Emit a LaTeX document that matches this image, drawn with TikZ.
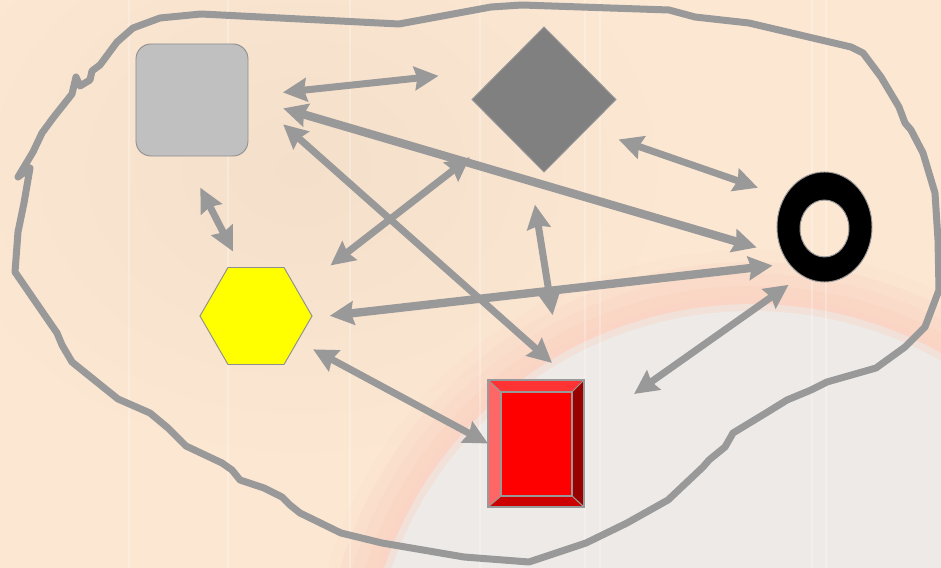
\documentclass[tikz,border=0pt]{standalone}
\usetikzlibrary{arrows.meta,shapes.geometric,calc}
\definecolor{bgpeach}{HTML}{FCE7D3}
\definecolor{bgtan}{HTML}{F4DFCA}
\definecolor{bandpink}{HTML}{FAD4C4}
\definecolor{diskgray}{HTML}{EEEAE7}
\definecolor{linkgray}{HTML}{999999}
\definecolor{edgegray}{HTML}{8F8F8F}
\definecolor{sqgray}{HTML}{C0C0C0}
\definecolor{diagray}{HTML}{808080}
\definecolor{hexyellow}{HTML}{FFFF00}
\definecolor{redface}{HTML}{FF0000}
\definecolor{redtop}{HTML}{FF3333}
\definecolor{redleft}{HTML}{FF6666}
\definecolor{redright}{HTML}{990000}
\definecolor{redbottom}{HTML}{CC0000}
\begin{document}
\begin{tikzpicture}[x=0.03cm,y=-0.03cm,
	>={Stealth[length=0.72cm,width=0.7cm,inset=0.08cm]},
	link/.style={<->,draw=linkgray,line width=0.21cm},
	heavy/.style={link,line width=0.25cm},
	outline/.style={draw=linkgray,line width=0.21cm,line join=round},
	sqbox/.style={rectangle,rounded corners=0.45cm,minimum size=3.36cm,inner sep=0,outer sep=0,fill=sqgray,draw=edgegray,line width=0.8pt},
	diabox/.style={diamond,minimum width=4.32cm,minimum height=4.35cm,inner sep=0,outer sep=0,fill=diagray,draw=linkgray,line width=0.8pt},
	hexbox/.style={regular polygon,regular polygon sides=6,minimum size=3.36cm,inner sep=0,outer sep=0,fill=hexyellow,draw=edgegray,line width=0.8pt},
	ringbox/.style={ellipse,minimum width=2.85cm,minimum height=3.3cm,inner sep=0,outer sep=0},
	redbox/.style={rectangle,minimum width=2.88cm,minimum height=3.81cm,inner sep=0,outer sep=0,fill=redface},
	bevel/.style={draw=linkgray,line width=0.9pt}]
\useasboundingbox (0,0) rectangle (941,568);
\fill[bgpeach] (0,0) rectangle (941,568);
\begin{scope}
	\clip (0,0) rectangle (941,568);
	\shade[inner color=bgtan,outer color=bgpeach] (300,170) ellipse (380 and 300);
	\foreach \r/\o in {442/0.15,430/0.25,418/0.4,406/0.55,395/0.75}
		\fill[bandpink,opacity=\o] (752,692) circle (\r);
	\fill[diskgray,opacity=0.6] (752,692) circle (388);
	\fill[diskgray] (752,692) circle (381);
	\foreach \x in {129,228,350,480,585,600,812,826}
		\draw[white,opacity=0.25,line width=0.06cm] (\x,0) -- (\x,568);
\end{scope}
\draw[outline] (201,14) -- (399,24) -- (491,7) -- (522,5) -- (669,10) -- (695,17) -- (749,23)
	-- (851,47) -- (863,53) -- (881,77) -- (899,107) -- (905,123) -- (911,130) -- (923,153)
	-- (935,193) -- (938,240) -- (939,290) -- (925,327) -- (905,347) -- (876,368) -- (827,382)
	-- (811,390) -- (787,400) -- (766,413) -- (733,433) -- (725,447) -- (709,460) -- (703,467)
	-- (668,500) -- (627,523) -- (586,543) -- (529,562) -- (464,557) -- (382,543) -- (341,533)
	-- (300,513) -- (290,505) -- (282,497) -- (264,488) -- (240,480) -- (232,470) -- (222,463)
	-- (186,446) -- (168,428) -- (150,413) -- (118,399) -- (108,391) -- (72,362) -- (62,345)
	-- (57,333) -- (15,272) -- (18,232) -- (24,203) -- (30,168) -- (18,177) -- (33,152)
	-- (42,133) -- (53,118) -- (72,94) -- (76,77) -- (80,86) -- (90,80) -- (92,71) -- (100,65)
	-- (117,42) -- (133,28) -- (160,18) -- cycle;
\node[sqbox] (sq) at (192,100) {};
\node[diabox] (dia) at (544,99.5) {};
\node[hexbox] (hex) at (256,316) {};
\node[ringbox] (ring) at (824.5,227) {};
\node[redbox] (red) at (536,443.5) {};
\coordinate (loose) at (634,394);
\fill[black,even odd rule,draw=linkgray,line width=0.8pt] (ring.center) ellipse (47.5 and 55)
	(824.5,228.5) ellipse (24.5 and 28.5);
\fill[redtop] (red.north west) -- (red.north east)
	-- ($(red.north east)+(-12,12)$) -- ($(red.north west)+(13,12)$) -- cycle;
\fill[redleft] (red.north west) -- ($(red.north west)+(13,12)$)
	-- ($(red.south west)+(13,-11)$) -- (red.south west) -- cycle;
\fill[redright] (red.north east) -- ($(red.north east)+(-12,12)$)
	-- ($(red.south east)+(-12,-11)$) -- (red.south east) -- cycle;
\fill[redbottom] (red.south west) -- ($(red.south west)+(13,-11)$)
	-- ($(red.south east)+(-12,-11)$) -- (red.south east) -- cycle;
\draw[bevel] (red.north west) rectangle (red.south east);
\draw[bevel] ($(red.north west)+(13,12)$) rectangle ($(red.south east)+(-12,-11)$);
\draw[bevel] (red.north west) -- ++(13,12) (red.north east) -- ++(-12,12)
	(red.south west) -- ++(13,-11) (red.south east) -- ++(-12,-11);
\draw[link,shorten <=1.05cm,shorten >=1.92cm] (sq.4.5) -- (dia.144.4);
\draw[heavy,shorten <=1.1cm,shorten >=0.85cm] (sq.2.4) -- (ring.215.7);
\draw[link,shorten <=1.41cm,shorten >=0.77cm] (sq.7.3) -- (red.61.8);
\draw[link,shorten <=1.07cm,shorten >=0.54cm] (sq.262.9) -- (hex.107.4);
\draw[link,shorten <=1.27cm,shorten >=1.25cm] (dia.218) -- (hex.31.9);
\draw[link,shorten <=1cm,shorten >=0.85cm] (dia.326.9) -- (ring.143.4);
\draw[link,shorten <=1.51cm,shorten >=1.97cm] (dia.253.3) -- (red.67.7);
\draw[heavy,shorten <=0.57cm,shorten >=0.5cm] (hex.-2) -- (ring.226.7);
\draw[link,shorten <=0.53cm] (hex.329.4) -- (red.west);
\draw[link,shorten <=0.49cm] (ring.245.5) -- (loose);
\end{tikzpicture}
\end{document}
